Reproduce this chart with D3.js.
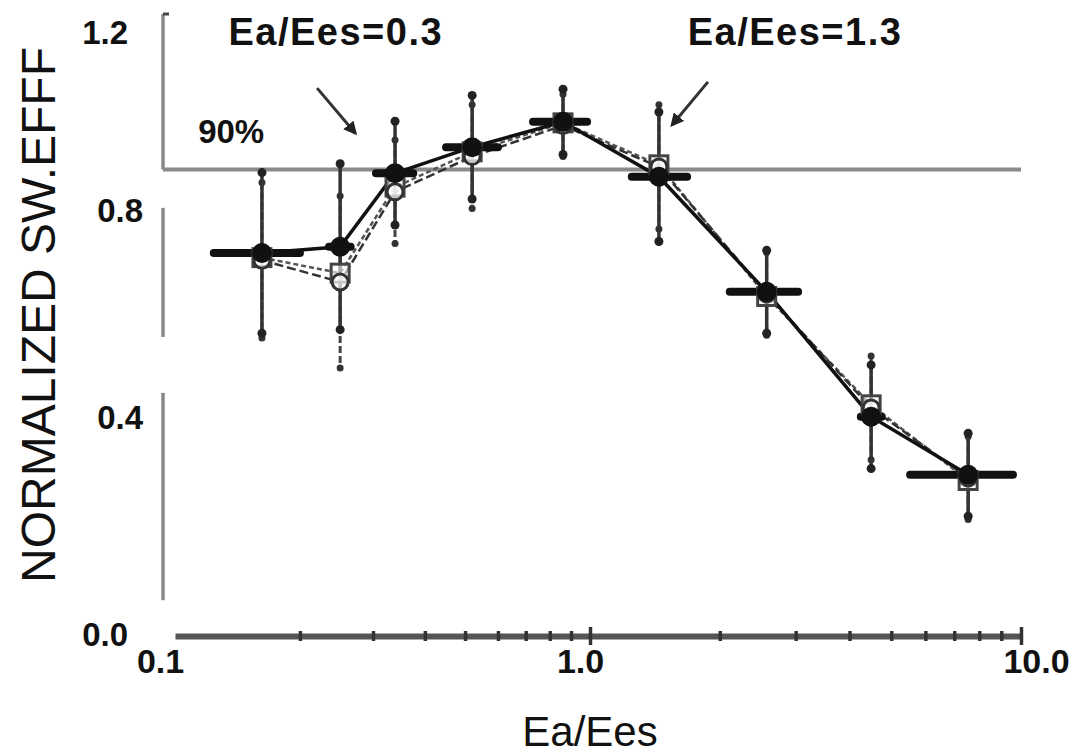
<!DOCTYPE html>
<html><head><meta charset="utf-8">
<script src="https://cdn.jsdelivr.net/npm/d3@7"></script>
<style>body{margin:0;background:#fff}svg{display:block}text{font-family:"Liberation Sans",Arial,sans-serif}</style>
</head><body><svg id="c" width="1072" height="756"></svg>
<script>
// ---- data ----
const ratio = [0.162, 0.250, 0.339, 0.520, 0.861, 1.445, 2.57, 4.49, 7.54];
const effFilled = [0.739, 0.751, 0.893, 0.943, 0.992, 0.886, 0.664, 0.423, 0.311];
const errFilled = [0.155, 0.16, 0.10, 0.10, 0.063, 0.125, 0.08, 0.10, 0.08];
const xLoFilled = [0.124, 0.235, 0.305, 0.45, 0.729, 1.25, 2.11, 4.25, 5.53];
const xHiFilled = [0.200, 0.265, 0.375, 0.60, 0.984, 1.68, 3.04, 4.75, 9.58];
const effOpenCircle = [0.725, 0.683, 0.857, 0.925, 0.985, 0.905, 0.660, 0.440, 0.305];
const errOpenCircle = [0.15, 0.166, 0.10, 0.10, 0.06, 0.12, 0.08, 0.10, 0.08];
const effOpenSquare = [0.730, 0.700, 0.866, 0.934, 0.990, 0.909, 0.655, 0.446, 0.300];
const xTickLabels = {0.1: "0.1", 1: "1.0", 10: "10.0"};
const yTicks = [0.0, 0.4, 0.8, 1.2];
const yAxisPieces = [[0.069, 0.469], [0.577, 0.826], [0.9, 1.2]];
const refLevel = 0.9;
const refLabel = "90%";
const annoText = ["Ea/Ees=0.3", "Ea/Ees=1.3"];
const annoX = [0.244, 2.99];
const annoY = [1.14, 1.14];
const arrowFrom = [[0.220, 1.057], [1.878, 1.069]];
const arrowTo = [[0.272, 0.970], [1.55, 0.986]];
const xTitle = "Ea/Ees";
const yTitle = "NORMALIZED SW.EFFF";

// ---- layout ----
const svg = d3.select("#c");
svg.append("rect").attr("width",1072).attr("height",756).attr("fill","#fff");
const x = d3.scaleLog().domain([0.1, 1, 10]).range([175, 590, 1021]);
const y = d3.scaleLinear().domain([0, 1.2]).range([636, 14]);
const axisX = 163;

svg.append("defs").append("marker").attr("id","ah").attr("viewBox","0 0 10 10")
  .attr("refX",8).attr("refY",5).attr("markerWidth",4.5).attr("markerHeight",4.5)
  .attr("orient","auto").append("path").attr("d","M0,0L10,5L0,10z").attr("fill","#222");

// y axis pieces
svg.selectAll(".yseg").data(yAxisPieces).join("line")
  .attr("x1",axisX).attr("x2",axisX).attr("y1",d=>y(d[0])).attr("y2",d=>y(d[1]))
  .attr("stroke","#888").attr("stroke-width",3.5);
svg.append("line").attr("x1",axisX).attr("x2",axisX+6).attr("y1",y(1.2)).attr("y2",y(1.2))
  .attr("stroke","#444").attr("stroke-width",3);

// 90% line
svg.append("line").attr("x1",axisX).attr("x2",x(10)).attr("y1",y(refLevel)).attr("y2",y(refLevel))
  .attr("stroke","#8a8a8a").attr("stroke-width",4);

// x axis
const gx = svg.append("g").attr("transform",`translate(0,${y(0)})`)
  .call(d3.axisBottom(x).tickValues(x.ticks()).tickSizeOuter(0)
        .tickFormat(d => xTickLabels[d] || ""));
gx.select(".domain").attr("stroke","#555").attr("stroke-width",6);
gx.selectAll(".tick line")
  .attr("y1", d => (d===1||d===10) ? -9 : -5)
  .attr("y2", d => (d===1||d===10) ? 9 : 5)
  .attr("stroke","#333").attr("stroke-width",3.5)
  .attr("opacity", d => d===0.1 ? 0 : 1);
gx.selectAll(".tick text").attr("font-size",34).attr("font-weight","bold").attr("fill","#111")
  .attr("font-family","Liberation Sans, Arial, sans-serif")
  .attr("y",13).attr("dx", d => d===10 ? 15 : (d===0.1 ? -15 : -10));

// y axis labels
const gy = svg.append("g").attr("transform",`translate(${axisX},0)`)
  .call(d3.axisLeft(y).tickValues(yTicks).tickSize(0).tickFormat(d3.format(".1f")));
gy.select(".domain").remove();
gy.selectAll(".tick text").attr("font-size",33).attr("font-weight","bold").attr("fill","#111")
  .attr("font-family","Liberation Sans, Arial, sans-serif")
  .attr("x", d => (d===0||d===1.2) ? -35 : -20)
  .attr("dy", d => d===1.2 ? "0.9em" : (d===0 ? "0.28em" : "0em"));

// lines
const idx = d3.range(ratio.length);
const lineOf = arr => d3.line().x(i=>x(ratio[i])).y(i=>y(arr[i]));
svg.append("path").attr("d",lineOf(effOpenSquare)(idx)).attr("fill","none")
  .attr("stroke","#555").attr("stroke-width",2.5).attr("stroke-dasharray","5,3");
svg.append("path").attr("d",lineOf(effOpenCircle)(idx)).attr("fill","none")
  .attr("stroke","#333").attr("stroke-width",2.5).attr("stroke-dasharray","9,4");
svg.append("path").attr("d",lineOf(effFilled)(idx)).attr("fill","none")
  .attr("stroke","#111").attr("stroke-width",3.5);

// error bars (open circles)
const eb2 = svg.append("g");
eb2.selectAll("line").data(idx).join("line")
  .attr("x1",i=>x(ratio[i])).attr("x2",i=>x(ratio[i]))
  .attr("y1",i=>y(effOpenCircle[i]+errOpenCircle[i])).attr("y2",i=>y(effOpenCircle[i]-errOpenCircle[i]))
  .attr("stroke","#444").attr("stroke-width",3).attr("stroke-dasharray","7,3");
eb2.selectAll("circle").data(idx.flatMap(i=>[[i,1],[i,-1]])).join("circle")
  .attr("cx",d=>x(ratio[d[0]])).attr("cy",d=>y(effOpenCircle[d[0]]+d[1]*errOpenCircle[d[0]]))
  .attr("r",3.5).attr("fill","#333");

// error bars (filled)
const eb = svg.append("g");
eb.selectAll("line.v").data(idx).join("line").attr("class","v")
  .attr("x1",i=>x(ratio[i])).attr("x2",i=>x(ratio[i]))
  .attr("y1",i=>y(effFilled[i]+errFilled[i])).attr("y2",i=>y(effFilled[i]-errFilled[i]))
  .attr("stroke","#333").attr("stroke-width",3.5);
eb.selectAll("circle").data(idx.flatMap(i=>[[i,1],[i,-1]])).join("circle")
  .attr("cx",d=>x(ratio[d[0]])).attr("cy",d=>y(effFilled[d[0]]+d[1]*errFilled[d[0]]))
  .attr("r",4.5).attr("fill","#222");
eb.selectAll("line.h").data(idx).join("line").attr("class","h")
  .attr("x1",i=>x(xLoFilled[i])).attr("x2",i=>x(xHiFilled[i]))
  .attr("y1",i=>y(effFilled[i])).attr("y2",i=>y(effFilled[i]))
  .attr("stroke","#111").attr("stroke-width",8).attr("stroke-linecap","round");

// markers
svg.selectAll("rect.sq").data(idx).join("rect").attr("class","sq")
  .attr("x",i=>x(ratio[i])-9).attr("y",i=>y(effOpenSquare[i])-9).attr("width",18).attr("height",18)
  .attr("fill","#fff").attr("fill-opacity",0.6).attr("stroke","#444").attr("stroke-width",3);
svg.selectAll("circle.oc").data(idx).join("circle").attr("class","oc")
  .attr("cx",i=>x(ratio[i])).attr("cy",i=>y(effOpenCircle[i])).attr("r",8)
  .attr("fill","#fff").attr("fill-opacity",0.7).attr("stroke","#333").attr("stroke-width",3);
svg.selectAll("circle.fc").data(idx).join("circle").attr("class","fc")
  .attr("cx",i=>x(ratio[i])).attr("cy",i=>y(effFilled[i])).attr("r",10)
  .attr("fill","#111");

// annotations
svg.selectAll("text.anno").data(annoText).join("text").attr("class","anno")
  .attr("x",(d,i)=>x(annoX[i])).attr("y",(d,i)=>y(annoY[i]))
  .attr("text-anchor","middle").attr("font-size",38).attr("font-weight","bold")
  .attr("letter-spacing",1.5).attr("fill","#111").text(d=>d);
svg.selectAll("line.arr").data(arrowFrom).join("line").attr("class","arr")
  .attr("x1",d=>x(d[0])).attr("y1",d=>y(d[1]))
  .attr("x2",(d,i)=>x(arrowTo[i][0])).attr("y2",(d,i)=>y(arrowTo[i][1]))
  .attr("stroke","#333").attr("stroke-width",3).attr("marker-end","url(#ah)");
svg.append("text").attr("x",x(0.1137)).attr("y",y(0.951))
  .attr("font-size",33).attr("font-weight","bold").attr("fill","#111").text(refLabel);

// titles
svg.append("text").attr("x",x(1)).attr("y",746).attr("text-anchor","middle")
  .attr("font-size",42).attr("fill","#111").text(xTitle);
svg.append("text").attr("transform","translate(55,315) rotate(-90)").attr("text-anchor","middle")
  .attr("font-size",48).attr("fill","#111").text(yTitle);
</script></body></html>
